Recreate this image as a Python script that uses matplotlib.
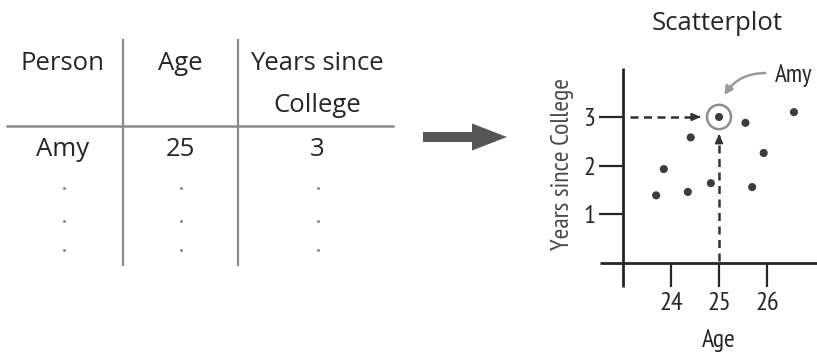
import matplotlib
matplotlib.use("Agg")
import matplotlib.pyplot as plt
from matplotlib.patches import FancyArrow, Circle

# table contents
headers = ["Person", "Age", "Years since", "College"]
first_row = ["Amy", "25", "3"]

# scatterplot data (age, years since college)
ages = [25.0, 25.55, 26.56, 24.41, 25.93, 23.85, 24.83, 24.35, 25.69, 23.69]
years = [3.0, 2.88, 3.1, 2.58, 2.26, 1.93, 1.64, 1.46, 1.56, 1.39]
highlight = 0  # Amy
xticks = [24, 25, 26]
yticks = [1, 2, 3]

narrow = ["PT Sans Narrow", "DejaVu Sans"]
wide = ["Open Sans", "DejaVu Sans"]
ink = "#262626"
line_gray = "#8a8a8a"

fig = plt.figure(figsize=(8.17, 3.54), dpi=100)

# full figure overlay in pixel units for table and big arrow
bg = fig.add_axes([0, 0, 1, 1])
bg.set_xlim(0, 817)
bg.set_ylim(354, 0)
bg.axis("off")

col_x = [63, 180, 317]
head_pos = [(63, 63), (180, 63), (317, 63), (317, 105)]
for (x, y), h in zip(head_pos, headers):
    bg.text(x, y, h, ha="center", va="center", fontsize=18.5, family=wide, color=ink)
for x, v in zip(col_x, first_row):
    bg.text(x, 150, v, ha="center", va="center", fontsize=18.5, family=wide, color=ink)
for x in col_x:
    for y in [188, 221, 250]:
        bg.plot(x + 1, y, "o", ms=2.2, color="#8c8c8c", mec="none")

bg.plot([123, 123], [40, 265], color=line_gray, lw=1.6)
bg.plot([238, 238], [40, 265], color=line_gray, lw=1.6)
bg.plot([7, 393], [126, 126], color=line_gray, lw=1.8)

bg.add_patch(FancyArrow(423, 137, 84, 0, width=10, head_width=27, head_length=35,
                        length_includes_head=True, color="#565656", lw=0))

bg.text(717, 23, "Scatterplot", ha="center", va="center", fontsize=18.5,
        family=wide, color=ink)

# scatterplot axes placed so that age 23..27.04 and 0..4 fill the right panel
ax = fig.add_axes([623 / 817, 91 / 354, 194 / 817, 194.7 / 354])
ax.set_xlim(23, 27.04)
ax.set_ylim(0, 4)
ax.patch.set_alpha(0)
for s in ax.spines.values():
    s.set_visible(False)

ax.plot([23, 23], [-0.49, 4.0], color=ink, lw=2, clip_on=False, solid_capstyle="butt")
ax.plot([22.52, 27.04], [0, 0], color=ink, lw=2, clip_on=False, solid_capstyle="butt")

ax.set_xticks(xticks)
ax.set_yticks(yticks)
ax.tick_params(length=17, width=1.6, color=ink, direction="out",
               labelsize=19, labelcolor=ink)
ax.tick_params(axis="x", pad=4)
ax.tick_params(axis="y", pad=3)
for lab in ax.get_xticklabels() + ax.get_yticklabels():
    lab.set_family(narrow)

ax.scatter(ages, years, s=34, color="#3c3c3c", edgecolors="none", zorder=3)
ax.add_patch(Circle((ages[highlight], years[highlight]), 0.25, transform=ax.transData,
                    fill=False, ec="#8e8e8e", lw=1.8, zorder=2))

# dashed guides from the axes to the highlighted point
dash = dict(color="#333333", lw=1.8, ls=(0, (3.2, 2.2)), clip_on=False)
ax.plot([23.15, 24.55], [years[highlight]] * 2, **dash)
ax.plot([ages[highlight]] * 2, [0.05, 2.6], **dash)
head = dict(arrowstyle="-|>,head_length=0.5,head_width=0.22", color="#333333", lw=1.5)
ax.annotate("", xy=(24.68, years[highlight]), xytext=(24.5, years[highlight]),
            arrowprops=head)
ax.annotate("", xy=(ages[highlight], 2.71), xytext=(ages[highlight], 2.5),
            arrowprops=head)

ax.annotate("", xy=(25.08, 3.4), xytext=(26.02, 3.9), annotation_clip=False,
            arrowprops=dict(arrowstyle="-|>,head_length=0.5,head_width=0.25",
                            connectionstyle="arc3,rad=0.3", color="#9a9a9a", lw=1.8))
ax.text(26.16, 3.86, "Amy", ha="left", va="center", fontsize=18, family=narrow, color=ink)

fig.text(562 / 817, 1 - 164 / 354, "Years since College", rotation=90, ha="center",
         va="center", fontsize=18.5, family=narrow, color="#4a4a4a")
fig.text(719 / 817, 1 - 340 / 354, "Age", ha="center", va="center", fontsize=18.5,
         family=narrow, color=ink)

fig.savefig("out.png", dpi=100)
